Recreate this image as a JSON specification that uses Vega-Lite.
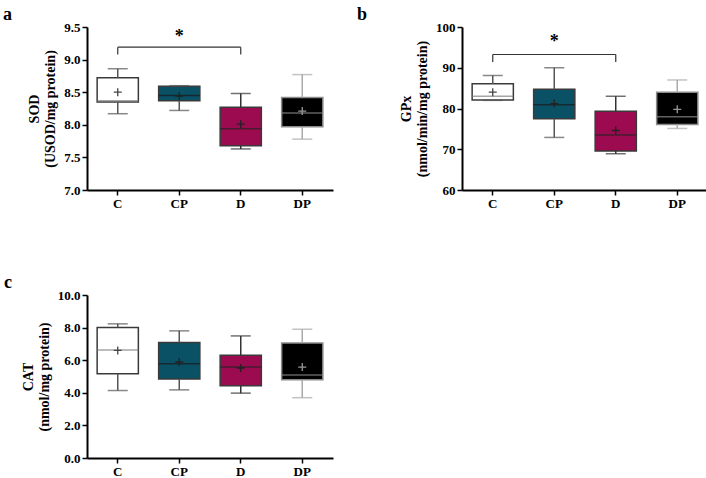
{
  "$schema": "https://vega.github.io/schema/vega-lite/v6.json",
  "padding": {"left": 3, "top": 6, "right": 0, "bottom": 0},
  "background": "white",
  "config": {
    "font": "Liberation Serif",
    "view": {"stroke": null},
    "axis": {
      "labelFont": "Liberation Serif", "labelFontWeight": "bold", "labelFontSize": 13, "labelColor": "black", "labelOverlap": false,
      "titleFont": "Liberation Serif", "titleFontWeight": "bold", "titleFontSize": 14, "titleColor": "black",
      "domainColor": "black", "domainWidth": 2, "tickColor": "black", "tickWidth": 1.5, "tickSize": 5, "grid": false
    },
    "axisY": {"labelPadding": 2, "titlePadding": 6, "titleLineHeight": 16, "tickCount": 12},
    "axisX": {"labelPadding": 2, "labelAngle": 0},
    "title": {"font": "Liberation Serif", "fontWeight": "bold", "fontSize": 18, "color": "black", "anchor": "start", "frame": "group", "offset": -3}
  },
  "datasets": {
    "sod": [
      {"g": "C", "lo": 8.17, "q1": 8.35, "med": 8.37, "q3": 8.72, "hi": 8.86, "mean": 8.50},
      {"g": "CP", "lo": 8.22, "q1": 8.37, "med": 8.45, "q3": 8.59, "hi": 8.60, "mean": 8.44},
      {"g": "D", "lo": 7.63, "q1": 7.68, "med": 7.94, "q3": 8.27, "hi": 8.48, "mean": 8.01},
      {"g": "DP", "lo": 7.78, "q1": 7.97, "med": 8.18, "q3": 8.42, "hi": 8.77, "mean": 8.21}
    ],
    "gpx": [
      {"g": "C", "lo": 82.0, "q1": 82.1, "med": 83.0, "q3": 86.1, "hi": 88.1, "mean": 84.0},
      {"g": "CP", "lo": 72.9, "q1": 77.5, "med": 80.9, "q3": 84.7, "hi": 90.0, "mean": 81.2},
      {"g": "D", "lo": 68.9, "q1": 69.6, "med": 73.5, "q3": 79.3, "hi": 83.0, "mean": 74.6},
      {"g": "DP", "lo": 75.1, "q1": 76.1, "med": 78.0, "q3": 84.0, "hi": 87.0, "mean": 79.8}
    ],
    "cat": [
      {"g": "C", "lo": 4.14, "q1": 5.17, "med": 6.63, "q3": 8.0, "hi": 8.23, "mean": 6.60},
      {"g": "CP", "lo": 4.18, "q1": 4.84, "med": 5.78, "q3": 7.08, "hi": 7.8, "mean": 5.89},
      {"g": "D", "lo": 3.98, "q1": 4.43, "med": 5.58, "q3": 6.3, "hi": 7.49, "mean": 5.52},
      {"g": "DP", "lo": 3.70, "q1": 4.80, "med": 5.09, "q3": 7.06, "hi": 7.90, "mean": 5.58}
    ],
    "sigA": [{"g": "C", "g2": "D", "gm": "CP", "y": 9.19, "yb": 9.08, "ys": 9.40, "label": "*"}],
    "sigB": [{"g": "C", "g2": "D", "gm": "CP", "y": 93.25, "yb": 91.4, "ys": 97.1, "label": "*"}]
  },
  "vconcat": [
    {
      "hconcat": [
        {
          "width": 246, "height": 163,
          "title": {"text": "a", "dx": -84},
          "data": {"name": "sod"},
          "encoding": {"x": {"field": "g", "type": "nominal", "sort": ["C", "CP", "D", "DP"], "scale": {"paddingInner": 0.33, "paddingOuter": 0.165}, "axis": {"title": null}}},
          "resolve": {"scale": {"color": "independent"}},
          "layer": [
            {"mark": {"type": "bar", "width": {"band": 1}, "strokeWidth": 1.5},
             "encoding": {
               "y": {"field": "q1", "type": "quantitative", "scale": {"domain": [7, 9.5], "nice": false, "zero": false}, "axis": {"values": [7, 7.5, 8, 8.5, 9, 9.5], "tickCount": 12, "format": ".1f", "title": ["SOD", "(USOD/mg protein)"]}},
               "y2": {"field": "q3"},
               "fill": {"field": "g", "type": "nominal", "scale": {"domain": ["C", "CP", "D", "DP"], "range": ["#ffffff", "#0b5166", "#9c0a4f", "#000000"]}, "legend": null},
               "stroke": {"field": "g", "type": "nominal", "scale": {"domain": ["C", "CP", "D", "DP"], "range": ["#3a3a3a", "#3a3a3a", "#3a3a3a", "#8a8a8a"]}, "legend": null}
             }},
            {"mark": {"type": "tick", "orient": "horizontal", "size": 41, "thickness": 1.5},
             "encoding": {"y": {"field": "med", "type": "quantitative"},
               "color": {"field": "g", "type": "nominal", "scale": {"domain": ["C", "CP", "D", "DP"], "range": ["#808080", "#1a1a1a", "#222222", "#8a8a8a"]}, "legend": null}}},
            {"mark": {"type": "rule", "strokeWidth": 1.5},
             "encoding": {"y": {"field": "lo", "type": "quantitative"}, "y2": {"field": "q1"},
               "color": {"field": "g", "type": "nominal", "scale": {"domain": ["C", "CP", "D", "DP"], "range": ["#555555", "#555555", "#333333", "#aaaaaa"]}, "legend": null}}},
            {"mark": {"type": "rule", "strokeWidth": 1.5},
             "encoding": {"y": {"field": "q3", "type": "quantitative"}, "y2": {"field": "hi"},
               "color": {"field": "g", "type": "nominal", "scale": {"domain": ["C", "CP", "D", "DP"], "range": ["#555555", "#555555", "#333333", "#aaaaaa"]}, "legend": null}}},
            {"mark": {"type": "tick", "orient": "horizontal", "size": 20, "thickness": 1.5},
             "encoding": {"y": {"field": "lo", "type": "quantitative"},
               "color": {"field": "g", "type": "nominal", "scale": {"domain": ["C", "CP", "D", "DP"], "range": ["#555555", "#555555", "#333333", "#aaaaaa"]}, "legend": null}}},
            {"mark": {"type": "tick", "orient": "horizontal", "size": 20, "thickness": 1.5},
             "encoding": {"y": {"field": "hi", "type": "quantitative"},
               "color": {"field": "g", "type": "nominal", "scale": {"domain": ["C", "CP", "D", "DP"], "range": ["#555555", "#555555", "#333333", "#aaaaaa"]}, "legend": null}}},
            {"mark": {"type": "point", "shape": "M-1,0H1M0,-1V1", "size": 64, "filled": false, "strokeWidth": 1.3, "opacity": 1},
             "encoding": {"y": {"field": "mean", "type": "quantitative"},
               "color": {"field": "g", "type": "nominal", "scale": {"domain": ["C", "CP", "D", "DP"], "range": ["#444444", "#222222", "#222222", "#999999"]}, "legend": null}}},
            {"data": {"name": "sigA"}, "mark": {"type": "rule", "color": "#333333", "strokeWidth": 1.2},
             "encoding": {"x": {"field": "g", "type": "nominal", "bandPosition": 0.5}, "x2": {"field": "g2", "bandPosition": 0.5}, "y": {"field": "y", "type": "quantitative"}}},
            {"data": {"name": "sigA"}, "mark": {"type": "rule", "color": "#333333", "strokeWidth": 1.2},
             "encoding": {"x": {"field": "g", "type": "nominal", "bandPosition": 0.5}, "y": {"field": "y", "type": "quantitative"}, "y2": {"field": "yb"}}},
            {"data": {"name": "sigA"}, "mark": {"type": "rule", "color": "#333333", "strokeWidth": 1.2},
             "encoding": {"x": {"field": "g2", "type": "nominal", "bandPosition": 0.5}, "y": {"field": "y", "type": "quantitative"}, "y2": {"field": "yb"}}},
            {"data": {"name": "sigA"}, "mark": {"type": "text", "fontSize": 18, "fontWeight": "bold", "baseline": "middle", "dy": 3},
             "encoding": {"x": {"field": "gm", "type": "nominal"}, "y": {"field": "ys", "type": "quantitative"}, "text": {"field": "label"}}}
          ]
        },
        {
          "width": 246, "height": 163,
          "title": {"text": "b", "dx": -105},
          "data": {"name": "gpx"},
          "encoding": {"x": {"field": "g", "type": "nominal", "sort": ["C", "CP", "D", "DP"], "scale": {"paddingInner": 0.33, "paddingOuter": 0.165}, "axis": {"title": null}}},
          "resolve": {"scale": {"color": "independent"}},
          "layer": [
            {"mark": {"type": "bar", "width": {"band": 1}, "strokeWidth": 1.5},
             "encoding": {
               "y": {"field": "q1", "type": "quantitative", "scale": {"domain": [60, 100], "nice": false, "zero": false}, "axis": {"values": [60, 70, 80, 90, 100], "tickCount": 12, "title": ["GPx", "(nmol/min/mg protein)"]}},
               "y2": {"field": "q3"},
               "fill": {"field": "g", "type": "nominal", "scale": {"domain": ["C", "CP", "D", "DP"], "range": ["#ffffff", "#0b5166", "#9c0a4f", "#000000"]}, "legend": null},
               "stroke": {"field": "g", "type": "nominal", "scale": {"domain": ["C", "CP", "D", "DP"], "range": ["#3a3a3a", "#3a3a3a", "#3a3a3a", "#8a8a8a"]}, "legend": null}
             }},
            {"mark": {"type": "tick", "orient": "horizontal", "size": 41, "thickness": 1.5},
             "encoding": {"y": {"field": "med", "type": "quantitative"},
               "color": {"field": "g", "type": "nominal", "scale": {"domain": ["C", "CP", "D", "DP"], "range": ["#808080", "#1a1a1a", "#222222", "#8a8a8a"]}, "legend": null}}},
            {"mark": {"type": "rule", "strokeWidth": 1.5},
             "encoding": {"y": {"field": "lo", "type": "quantitative"}, "y2": {"field": "q1"},
               "color": {"field": "g", "type": "nominal", "scale": {"domain": ["C", "CP", "D", "DP"], "range": ["#555555", "#555555", "#333333", "#aaaaaa"]}, "legend": null}}},
            {"mark": {"type": "rule", "strokeWidth": 1.5},
             "encoding": {"y": {"field": "q3", "type": "quantitative"}, "y2": {"field": "hi"},
               "color": {"field": "g", "type": "nominal", "scale": {"domain": ["C", "CP", "D", "DP"], "range": ["#555555", "#555555", "#333333", "#aaaaaa"]}, "legend": null}}},
            {"mark": {"type": "tick", "orient": "horizontal", "size": 20, "thickness": 1.5},
             "encoding": {"y": {"field": "lo", "type": "quantitative"},
               "color": {"field": "g", "type": "nominal", "scale": {"domain": ["C", "CP", "D", "DP"], "range": ["#555555", "#555555", "#333333", "#aaaaaa"]}, "legend": null}}},
            {"mark": {"type": "tick", "orient": "horizontal", "size": 20, "thickness": 1.5},
             "encoding": {"y": {"field": "hi", "type": "quantitative"},
               "color": {"field": "g", "type": "nominal", "scale": {"domain": ["C", "CP", "D", "DP"], "range": ["#555555", "#555555", "#333333", "#aaaaaa"]}, "legend": null}}},
            {"mark": {"type": "point", "shape": "M-1,0H1M0,-1V1", "size": 64, "filled": false, "strokeWidth": 1.3, "opacity": 1},
             "encoding": {"y": {"field": "mean", "type": "quantitative"},
               "color": {"field": "g", "type": "nominal", "scale": {"domain": ["C", "CP", "D", "DP"], "range": ["#444444", "#222222", "#222222", "#999999"]}, "legend": null}}},
            {"data": {"name": "sigB"}, "mark": {"type": "rule", "color": "#333333", "strokeWidth": 1.2},
             "encoding": {"x": {"field": "g", "type": "nominal", "bandPosition": 0.5}, "x2": {"field": "g2", "bandPosition": 0.5}, "y": {"field": "y", "type": "quantitative"}}},
            {"data": {"name": "sigB"}, "mark": {"type": "rule", "color": "#333333", "strokeWidth": 1.2},
             "encoding": {"x": {"field": "g", "type": "nominal", "bandPosition": 0.5}, "y": {"field": "y", "type": "quantitative"}, "y2": {"field": "yb"}}},
            {"data": {"name": "sigB"}, "mark": {"type": "rule", "color": "#333333", "strokeWidth": 1.2},
             "encoding": {"x": {"field": "g2", "type": "nominal", "bandPosition": 0.5}, "y": {"field": "y", "type": "quantitative"}, "y2": {"field": "yb"}}},
            {"data": {"name": "sigB"}, "mark": {"type": "text", "fontSize": 18, "fontWeight": "bold", "baseline": "middle", "dy": 3},
             "encoding": {"x": {"field": "gm", "type": "nominal"}, "y": {"field": "ys", "type": "quantitative"}, "text": {"field": "label"}}}
          ]
        }
      ],
      "spacing": 24
    },
    {
      "width": 246, "height": 163,
      "title": {"text": "c", "dx": -83},
      "data": {"name": "cat"},
      "encoding": {"x": {"field": "g", "type": "nominal", "sort": ["C", "CP", "D", "DP"], "scale": {"paddingInner": 0.33, "paddingOuter": 0.165}, "axis": {"title": null}}},
      "resolve": {"scale": {"color": "independent"}},
      "layer": [
        {"mark": {"type": "bar", "width": {"band": 1}, "strokeWidth": 1.5},
         "encoding": {
           "y": {"field": "q1", "type": "quantitative", "scale": {"domain": [0, 10], "nice": false}, "axis": {"values": [0, 2, 4, 6, 8, 10], "tickCount": 12, "format": ".1f", "title": ["CAT", "(nmol/mg protein)"]}},
           "y2": {"field": "q3"},
           "fill": {"field": "g", "type": "nominal", "scale": {"domain": ["C", "CP", "D", "DP"], "range": ["#ffffff", "#0b5166", "#9c0a4f", "#000000"]}, "legend": null},
           "stroke": {"field": "g", "type": "nominal", "scale": {"domain": ["C", "CP", "D", "DP"], "range": ["#3a3a3a", "#3a3a3a", "#3a3a3a", "#8a8a8a"]}, "legend": null}
         }},
        {"mark": {"type": "tick", "orient": "horizontal", "size": 41, "thickness": 1.5},
         "encoding": {"y": {"field": "med", "type": "quantitative"},
           "color": {"field": "g", "type": "nominal", "scale": {"domain": ["C", "CP", "D", "DP"], "range": ["#808080", "#1a1a1a", "#222222", "#8a8a8a"]}, "legend": null}}},
        {"mark": {"type": "rule", "strokeWidth": 1.5},
         "encoding": {"y": {"field": "lo", "type": "quantitative"}, "y2": {"field": "q1"},
           "color": {"field": "g", "type": "nominal", "scale": {"domain": ["C", "CP", "D", "DP"], "range": ["#555555", "#555555", "#333333", "#aaaaaa"]}, "legend": null}}},
        {"mark": {"type": "rule", "strokeWidth": 1.5},
         "encoding": {"y": {"field": "q3", "type": "quantitative"}, "y2": {"field": "hi"},
           "color": {"field": "g", "type": "nominal", "scale": {"domain": ["C", "CP", "D", "DP"], "range": ["#555555", "#555555", "#333333", "#aaaaaa"]}, "legend": null}}},
        {"mark": {"type": "tick", "orient": "horizontal", "size": 20, "thickness": 1.5},
         "encoding": {"y": {"field": "lo", "type": "quantitative"},
           "color": {"field": "g", "type": "nominal", "scale": {"domain": ["C", "CP", "D", "DP"], "range": ["#555555", "#555555", "#333333", "#aaaaaa"]}, "legend": null}}},
        {"mark": {"type": "tick", "orient": "horizontal", "size": 20, "thickness": 1.5},
         "encoding": {"y": {"field": "hi", "type": "quantitative"},
           "color": {"field": "g", "type": "nominal", "scale": {"domain": ["C", "CP", "D", "DP"], "range": ["#555555", "#555555", "#333333", "#aaaaaa"]}, "legend": null}}},
        {"mark": {"type": "point", "shape": "M-1,0H1M0,-1V1", "size": 64, "filled": false, "strokeWidth": 1.3, "opacity": 1},
         "encoding": {"y": {"field": "mean", "type": "quantitative"},
           "color": {"field": "g", "type": "nominal", "scale": {"domain": ["C", "CP", "D", "DP"], "range": ["#444444", "#222222", "#222222", "#999999"]}, "legend": null}}}
      ]
    }
  ],
  "spacing": 64
}
